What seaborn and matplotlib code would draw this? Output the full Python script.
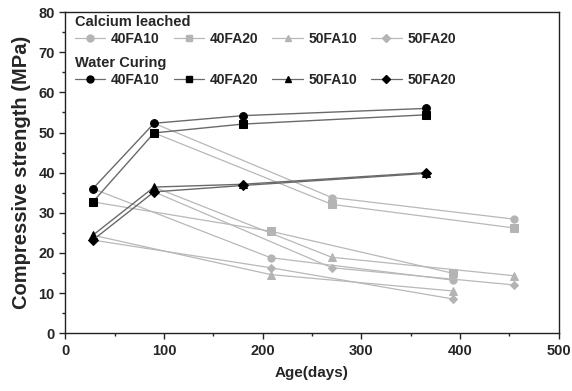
"""
Compressive strength vs age: water curing and calcium leached mixes.
"""

import pandas as pd
import matplotlib
matplotlib.use('Agg')
import matplotlib.pyplot as plt
from matplotlib.lines import Line2D
from matplotlib.ticker import MultipleLocator
import seaborn as sns

# Data
mixes = ['40FA10', '40FA20', '50FA10', '50FA20']
markers = ['o', 's', '^', 'D']

cure_age = [28, 90, 180, 365]
cure_strength = {
    '40FA10': [36.0, 52.3, 54.2, 56.0],
    '40FA20': [32.7, 49.9, 52.1, 54.4],
    '50FA10': [24.4, 36.4, 37.1, 40.0],
    '50FA20': [23.2, 35.2, 36.8, 39.8],
}

# leaching starts after 28 and 90 days of curing
leach_start = [28, 90]
leach_age = {28: [208, 393], 90: [270, 455]}
leach_strength = {
    '40FA10': {28: [18.8, 13.2], 90: [33.8, 28.4]},
    '40FA20': {28: [25.4, 14.9], 90: [32.1, 26.2]},
    '50FA10': {28: [14.6, 10.5], 90: [18.9, 14.3]},
    '50FA20': {28: [16.3, 8.5], 90: [16.3, 12.0]},
}

sns.set_style('ticks')
plt.rcParams['font.family'] = ['Liberation Sans', 'DejaVu Sans']
plt.rcParams['font.weight'] = 'bold'

fig, ax = plt.subplots(figsize=(5.72, 3.91), dpi=100)
fig.subplots_adjust(left=0.114, right=0.977, top=0.969, bottom=0.148)

leach_line = '#b8b8b8'
leach_mark = '#b4b4b4'
cure_line = '#6a6a6a'

# Calcium leached branches (gray), starting from the cured value
for mix, m in zip(mixes, markers):
    for start in leach_start:
        x0 = cure_age[cure_age.index(start)]
        y0 = cure_strength[mix][cure_age.index(start)]
        df = pd.DataFrame({'age': [x0] + leach_age[start],
                           'mpa': [y0] + leach_strength[mix][start]})
        sns.lineplot(data=df, x='age', y='mpa', ax=ax, color=leach_line, lw=0.9,
                     marker=m, markevery=[1, 2], markersize=5.2 if m != 'D' else 4.5,
                     markerfacecolor=leach_mark, markeredgecolor=leach_mark,
                     sort=False, zorder=2)

# Water curing (black)
for mix, m in zip(mixes, markers):
    df = pd.DataFrame({'age': cure_age, 'mpa': cure_strength[mix]})
    sns.lineplot(data=df, x='age', y='mpa', ax=ax, color=cure_line, lw=1.0,
                 marker=m, markersize=5.6 if m != 'D' else 5.0,
                 markerfacecolor='black', markeredgecolor='black',
                 sort=False, zorder=3)

ax.set_xlim(0, 500)
ax.set_ylim(0, 80)
ax.xaxis.set_major_locator(MultipleLocator(100))
ax.xaxis.set_minor_locator(MultipleLocator(50))
ax.yaxis.set_major_locator(MultipleLocator(10))
ax.yaxis.set_minor_locator(MultipleLocator(5))
ax.tick_params(which='major', direction='out', length=4, width=1, labelsize=10.5)
ax.tick_params(which='minor', direction='out', length=2.5, width=1)
for s in ax.spines.values():
    s.set_linewidth(1.0)
    s.set_color('#222222')
ax.set_xlabel('Age(days)', fontsize=11, fontweight='bold', labelpad=6)
ax.set_ylabel('Compressive strength (MPa)', fontsize=14.5, fontweight='bold', labelpad=5)

# legends
def handles(face, line):
    return [Line2D([], [], color=line, lw=0.9, marker=m, markersize=5 if m != 'D' else 4.5,
                   markerfacecolor=face, markeredgecolor=face) for m in markers]

leg_kw = dict(ncol=4, loc='upper left', frameon=False, handlelength=2.2,
              handletextpad=0.4, columnspacing=1.0, labelspacing=0.2,
              prop={'weight': 'bold', 'size': 10},
              title_fontproperties={'weight': 'bold', 'size': 10.5},
              alignment='left', borderaxespad=0.3)
leg1 = ax.legend(handles(leach_mark, leach_line), mixes, title='Calcium leached',
                 bbox_to_anchor=(0.0, 1.022), **leg_kw)
ax.add_artist(leg1)
ax.legend(handles('black', cure_line), mixes, title='Water Curing',
          bbox_to_anchor=(0.0, 0.894), **leg_kw)

fig.savefig('out.png', dpi=100)
